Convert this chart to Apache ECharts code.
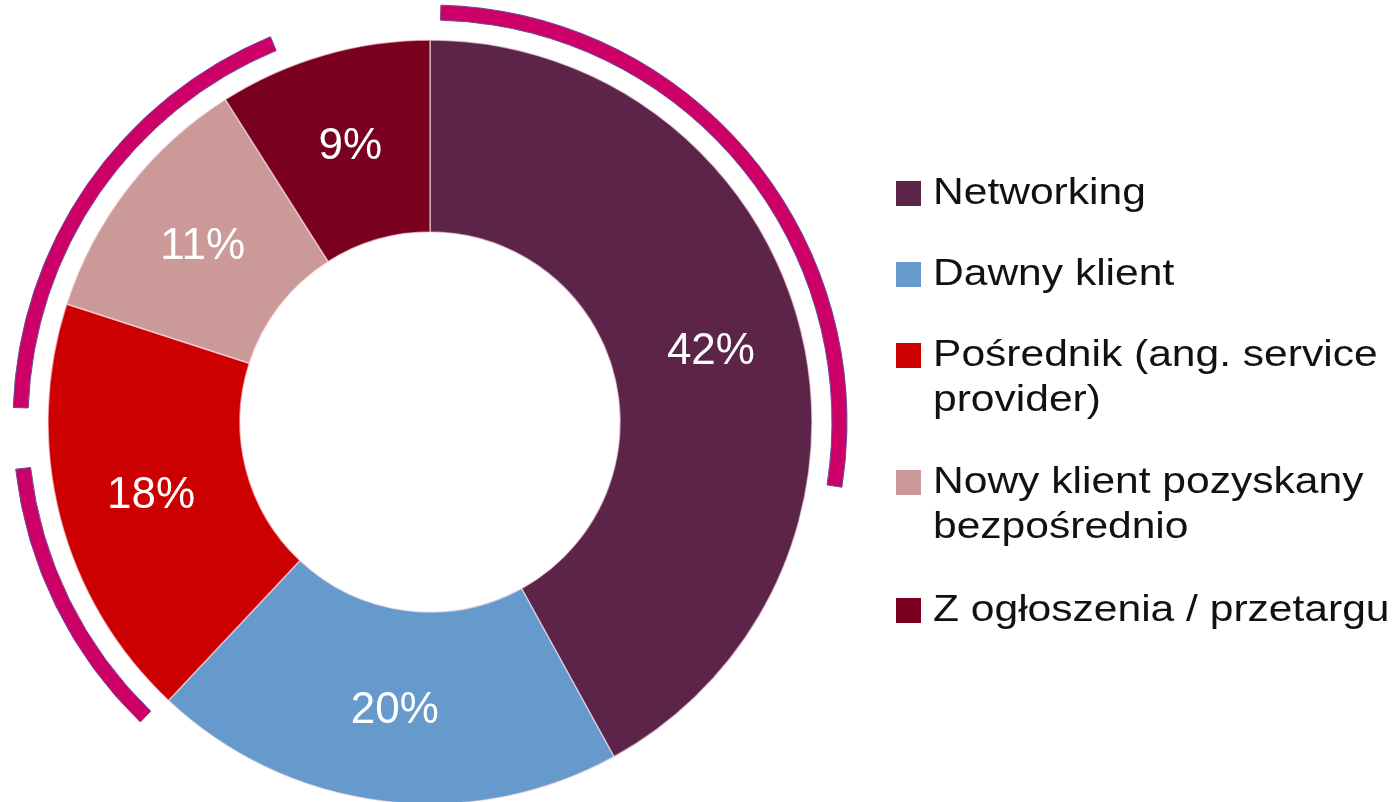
<!DOCTYPE html>
<html>
<head>
<meta charset="utf-8">
<script src="https://cdn.jsdelivr.net/npm/echarts@6/dist/echarts.min.js"></script>
<style>
  html, body { margin: 0; padding: 0; background: #fff; }
  #chart { width: 1397px; height: 802px; }
</style>
</head>
<body>
<div id="chart"></div>
<script>
// categories and shares (%)
const categories = [
  "Networking",
  "Dawny klient",
  "Pośrednik (ang. service\nprovider)",
  "Nowy klient pozyskany\nbezpośrednio",
  "Z ogłoszenia / przetargu",
];
const shares = [42, 20, 18, 11, 9];
const sliceColors = ["#5c2449", "#6699cc", "#cc0000", "#cc9999", "#7a0020"];

// decorative highlight arcs, degrees clockwise from 12 o'clock
const arcStarts = [1.5, 224, 272];
const arcEnds = [99, 263.5, 337.5];

// build the arc ring as alternating gap / arc pieces
const arcPieces = [];
let cursor = 0;
arcStarts.forEach((start, i) => {
  arcPieces.push({ value: start - cursor, itemStyle: { color: "transparent", borderWidth: 0 } });
  arcPieces.push({ value: arcEnds[i] - start });
  cursor = arcEnds[i];
});
arcPieces.push({ value: 360 - cursor, itemStyle: { color: "transparent", borderWidth: 0 } });

const chart = echarts.init(document.getElementById("chart"));

const centerX = 430;
const centerY = 422;

// legend built by hand so the marker sits on the first text line
const legendRows = [193, 274, 355, 482, 610];
const legendGraphics = [];
categories.forEach((name, i) => {
  legendGraphics.push({
    type: "rect",
    left: 896,
    top: legendRows[i] - 12,
    shape: { width: 25, height: 25 },
    style: { fill: sliceColors[i] },
  });
  legendGraphics.push({
    type: "text",
    x: 933,
    y: legendRows[i] - 22,
    scaleX: 1.15,
    style: {
      text: name,
      fill: "#111111",
      font: "37px 'Liberation Sans', Arial, sans-serif",
      lineHeight: 45,
      verticalAlign: "top",
    },
  });
});

const option = {
  animation: false,
  backgroundColor: "#ffffff",
  graphic: legendGraphics,
  series: [
    {
      name: "Źródło",
      type: "pie",
      center: [centerX, centerY],
      radius: [190, 382],
      startAngle: 90,
      clockwise: true,
      silent: true,
      avoidLabelOverlap: false,
      data: categories.map((name, i) => ({
        name: name,
        value: shares[i],
        itemStyle: { color: sliceColors[i] },
      })),
      itemStyle: {
        borderColor: "rgba(255, 230, 240, 0.6)",
        borderWidth: 1.5,
      },
      label: {
        show: true,
        position: "inside",
        formatter: "{c}%",
        color: "#ffffff",
        fontSize: 44,
        offset: [1, 2],
        fontFamily: "'Liberation Sans', Arial, sans-serif",
      },
      labelLine: { show: false },
      emphasis: { disabled: true },
    },
    {
      name: "arcs",
      type: "pie",
      center: [centerX, centerY],
      radius: [402, 417],
      startAngle: 90,
      clockwise: true,
      silent: true,
      data: arcPieces,
      itemStyle: {
        color: "#cc0066",
        borderColor: "#6a4a9c",
        borderWidth: 1,
      },
      label: { show: false },
      labelLine: { show: false },
      emphasis: { disabled: true },
    },
  ],
};

chart.setOption(option);
window.addEventListener("resize", () => chart.resize());
</script>
</body>
</html>
